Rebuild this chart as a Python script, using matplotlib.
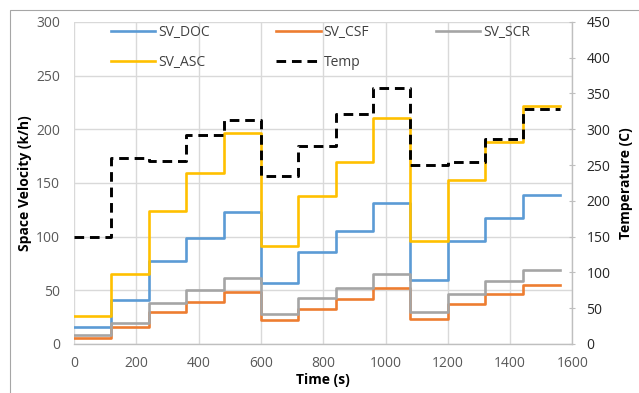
import numpy as np
import matplotlib
matplotlib.use("Agg")
import matplotlib.pyplot as plt
from matplotlib.patches import Rectangle

plt.rcParams['font.family'] = ['Open Sans', 'DejaVu Sans']

# ---- data ----
times = [0, 120, 240, 360, 480, 600, 720, 840, 960, 1080, 1200, 1320, 1440]
t_end = 1560
sv_doc = [16, 41, 77, 99, 123, 57, 86, 105.5, 131, 60, 96, 117, 138.5]
sv_csf = [5.5, 16, 30, 39, 48, 22, 33, 42, 52, 23.5, 37, 46.5, 54.5]
sv_scr = [8, 20, 38, 50, 61, 28, 42.5, 52.5, 65, 29.5, 47, 59, 69]
sv_asc = [26, 65.5, 123.5, 159, 196.5, 91, 138, 169.5, 210, 96, 153, 188.5, 222]
temp = [150, 260, 256, 292, 313, 235, 276, 321, 357, 250, 254, 286, 328]

series_names = ["SV_DOC", "SV_CSF", "SV_SCR", "SV_ASC"]
series_colors = ["#5B9BD5", "#ED7D31", "#A5A5A5", "#FFC000"]
x_ticks = [0, 200, 400, 600, 800, 1000, 1200, 1400, 1600]
y_ticks = [0, 50, 100, 150, 200, 250, 300]
y2_ticks = [0, 50, 100, 150, 200, 250, 300, 350, 400, 450]

fig = plt.figure(figsize=(6.39, 3.93), dpi=100)
fig.patches.append(Rectangle((10 / 639, -0.1), 1.2, (393 - 10) / 393 + 0.1,
                             transform=fig.transFigure, fill=False,
                             edgecolor="#A6A6A6", linewidth=0.8))

ax = fig.add_axes([0.1158, 0.1247, 0.78, 0.8198])
ax2 = ax.twinx()

def stepxy(vals):
    x = np.append(np.array(times, dtype=float), t_end)
    y = np.append(np.array(vals, dtype=float), vals[-1])
    return x, y

handles = {}
for name, vals, col in zip(series_names, [sv_doc, sv_csf, sv_scr, sv_asc], series_colors):
    x, y = stepxy(vals)
    h, = ax.step(x, y, where="post", color=col, lw=1.9, label=name, zorder=3)
    handles[name] = h

x, y = stepxy(temp)
ht, = ax2.step(x, y, where="post", color="black", lw=2.1,
               linestyle=(0, (3.3, 2.0)), label="Temp", zorder=3)
handles["Temp"] = ht

ax.set_xlim(0, 1600)
ax.set_ylim(0, 300)
ax2.set_ylim(0, 450)
ax.set_xticks(x_ticks)
ax.set_yticks(y_ticks)
ax2.set_yticks(y2_ticks)

ax.grid(True, color="#D9D9D9", lw=1.0, zorder=0)
ax.set_axisbelow(True)

for s in ["top", "left", "right"]:
    ax.spines[s].set_visible(False)
for s in ["top", "left", "bottom"]:
    ax2.spines[s].set_visible(False)
ax.spines["bottom"].set_color("#BFBFBF")
ax.spines["bottom"].set_linewidth(1.0)
ax2.spines["right"].set_color("#BFBFBF")
ax2.spines["right"].set_linewidth(1.0)

ax.tick_params(axis="y", length=0, pad=10, labelsize=10, labelcolor="#595959")
ax.tick_params(axis="x", length=0, pad=9, labelsize=10, labelcolor="#595959")
ax2.tick_params(axis="y", length=4, direction="inout", color="#BFBFBF",
                pad=8, labelsize=10, labelcolor="#262626")

ax.set_xlabel("Time (s)", fontsize=10, fontweight="bold", labelpad=1)
ax.set_ylabel("Space Velocity (k/h)", fontsize=10, fontweight="bold", labelpad=3)
ax2.set_ylabel("Temperature (C)", fontsize=10, fontweight="bold", labelpad=6)

order = ["SV_DOC", "SV_ASC", "SV_CSF", "Temp", "SV_SCR"]
leg = ax2.legend([handles[k] for k in order], order, ncol=3, loc="upper left",
                 bbox_to_anchor=(0.074, 0.99), frameon=False, fontsize=10,
                 handlelength=3.2, handletextpad=0.2, columnspacing=4.8,
                 labelspacing=1.1, borderpad=0, borderaxespad=0)
for t in leg.get_texts():
    t.set_color("#404040")

fig.savefig("out.png", dpi=100)
